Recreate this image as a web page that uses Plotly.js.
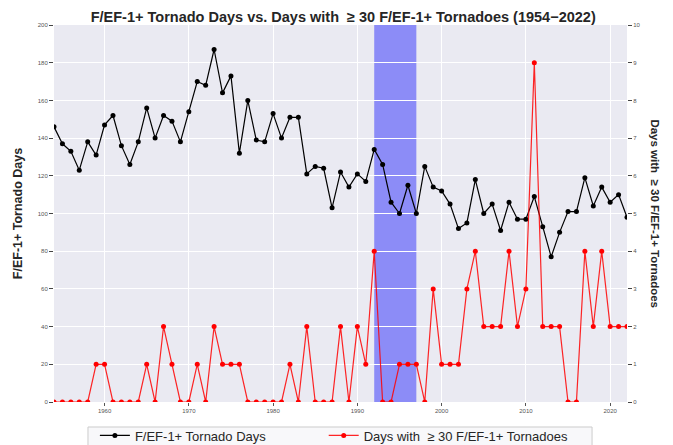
<!DOCTYPE html>
<html>
<head>
<meta charset="utf-8">
<script src="https://cdn.plot.ly/plotly-3.0.1.min.js"></script>
<style>html,body{margin:0;padding:0;background:#fff;}#chart{width:673px;height:445px;}</style>
</head>
<body>
<div id="chart"></div>
<script>
const years = [1954,1955,1956,1957,1958,1959,1960,1961,1962,1963,1964,1965,1966,1967,1968,1969,
  1970,1971,1972,1973,1974,1975,1976,1977,1978,1979,1980,1981,1982,1983,1984,1985,1986,1987,1988,1989,
  1990,1991,1992,1993,1994,1995,1996,1997,1998,1999,2000,2001,2002,2003,2004,2005,2006,2007,2008,2009,
  2010,2011,2012,2013,2014,2015,2016,2017,2018,2019,2020,2021,2022];
const tornadoDays = [146,137,133,123,138,131,147,152,136,126,138,156,140,152,149,138,
  154,170,168,187,164,173,132,160,139,138,153,140,151,151,121,125,124,103,122,114,
  121,117,134,126,106,100,115,100,125,114,112,105,92,95,118,100,105,91,106,97,
  97,109,93,77,90,101,101,119,104,114,106,110,98];
const bigDays = [0,0,0,0,0,1,1,0,0,0,0,1,0,2,1,0,
  0,1,0,2,1,1,1,0,0,0,0,0,1,0,2,0,0,0,2,0,
  2,1,4,0,0,1,1,1,0,3,1,1,1,3,4,2,2,2,4,2,
  3,9,2,2,2,0,0,4,2,4,2,2,2];
const shadeYears = [1992, 1997];
const xTicks = [1960,1970,1980,1990,2000,2010,2020];
const leftTicks = [0,20,40,60,80,100,120,140,160,180,200];
const rightTicks = [0,1,2,3,4,5,6,7,8,9,10];

const FONT = "Liberation Sans, Arial, sans-serif";
const tickFont = {family: FONT, size: 6, color: '#555'};
const GE = '\u00a0\u00a0\u2265 30';
const legFont = {family: FONT, size: 13, color: '#262626'};

const traces = [
  {x: years, y: tornadoDays, name: 'F/EF-1+ Tornado Days', type: 'scatter', mode: 'lines+markers',
   line: {color: 'black', width: 1.2}, marker: {color: 'black', size: 5}, yaxis: 'y', legend: 'legend'},
  {x: years, y: bigDays, name: 'Days with' + GE + ' F/EF-1+ Tornadoes', type: 'scatter', mode: 'lines+markers',
   line: {color: 'rgba(255,0,0,0.85)', width: 1.2}, marker: {color: 'red', size: 5}, yaxis: 'y2', legend: 'legend2'}
];

const layout = {
  width: 673, height: 445,
  margin: {l: 54, r: 46, t: 25, b: 43},
  paper_bgcolor: 'white', plot_bgcolor: '#EAEAF2',
  font: {family: FONT},
  title: {text: 'F/EF-1+ Tornado Days vs. Days with' + GE + ' F/EF-1+ Tornadoes (1954\u22122022)',
    font: {family: FONT, size: 14.5, color: '#262626', weight: 'bold'}, x: 0.51, xanchor: 'center', y: 0.962, yanchor: 'middle'},
  xaxis: {range: [years[0], years[years.length-1]], tickvals: xTicks, ticktext: xTicks.map(String),
    showgrid: true, gridcolor: 'white', gridwidth: 1, zeroline: false, showline: false,
    ticks: 'outside', ticklen: 3, tickcolor: '#555', tickfont: tickFont},
  yaxis: {range: [0, 200], tickvals: leftTicks, showgrid: true, gridcolor: 'white', gridwidth: 1,
    zeroline: false, showline: false, ticks: 'outside', ticklen: 4, tickcolor: '#444', tickfont: tickFont,
    title: {text: 'F/EF-1+ Tornado Days', font: {family: FONT, size: 12.5, color: '#262626', weight: 'bold'}, standoff: 12},
    automargin: false},
  yaxis2: {range: [0, 10], tickvals: rightTicks, overlaying: 'y', side: 'right', showgrid: false,
    zeroline: false, showline: false, ticks: 'outside', ticklen: 4, tickcolor: '#444', tickfont: tickFont,
    automargin: false},
  shapes: [
    {type: 'rect', xref: 'x', yref: 'paper', x0: shadeYears[0], x1: shadeYears[1], y0: 0, y1: 1,
     fillcolor: 'rgba(0,0,255,0.4)', line: {width: 0}, layer: 'below'},
    {type: 'rect', xref: 'paper', yref: 'paper', x0: 0.0593, x1: 0.939, y0: -0.125, y1: -0.0663,
     fillcolor: '#f8f8fa', line: {color: '#cccccc', width: 1}, layer: 'above'}
  ],
  annotations: [{text: 'Days with' + GE + ' F/EF-1+ Tornadoes', xref: 'paper', yref: 'paper',
    x: 1.049, y: 0.5, xanchor: 'center', yanchor: 'middle', textangle: 90, showarrow: false,
    font: {family: FONT, size: 11.5, color: '#262626', weight: 'bold'}}],
  showlegend: true,
  legend: {orientation: 'h', xref: 'container', yref: 'container', x: 0.141, xanchor: 'left', y: 0.055, yanchor: 'top',
    bgcolor: 'rgba(0,0,0,0)', borderwidth: 0, font: legFont},
  legend2: {orientation: 'h', xref: 'container', yref: 'container', x: 0.481, xanchor: 'left', y: 0.055, yanchor: 'top',
    bgcolor: 'rgba(0,0,0,0)', borderwidth: 0, font: legFont}
};

Plotly.newPlot('chart', traces, layout, {staticPlot: true, displayModeBar: false});
</script>
</body>
</html>
